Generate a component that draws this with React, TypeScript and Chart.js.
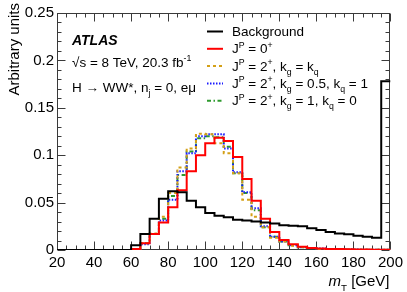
import React, { useEffect, useRef } from 'react';
import { Chart, registerables } from 'chart.js';

Chart.register(...registerables);

const FONT = '"Liberation Sans", Arial, Helvetica, sans-serif';

// 5 GeV bins from 20 to 200 GeV (lower edges + final upper edge)
const BIN_EDGES = [
  20, 25, 30, 35, 40, 45, 50, 55, 60, 65, 70, 75, 80, 85, 90, 95, 100, 105, 110,
  115, 120, 125, 130, 135, 140, 145, 150, 155, 160, 165, 170, 175, 180, 185, 190,
  195, 200,
];

const BACKGROUND = [
  0, 0, 0, 0, 0, 0, 0, 0,
  0.005, 0.017, 0.033, 0.054, 0.062, 0.061, 0.052, 0.045, 0.039, 0.036, 0.0345,
  0.032, 0.031, 0.030, 0.029, 0.028, 0.026, 0.0255, 0.025, 0.023, 0.021, 0.019,
  0.0175, 0.0165, 0.015, 0.014, 0.013, 0.178,
];

const SPIN0 = [
  0, 0, 0, 0, 0, 0, 0, 0,
  0.001, 0.007, 0.017, 0.029, 0.045, 0.063, 0.083, 0.100, 0.1125, 0.1185, 0.115,
  0.098, 0.075, 0.052, 0.033, 0.019, 0.0105, 0.006, 0.0035, 0.002, 0.0015, 0.001,
  0.001, 0.0008, 0.0005, 0.0004, 0.0003, 0.0003,
];

const SPIN2_KG_EQ_KQ = [
  0, 0, 0, 0, 0, 0, 0, 0,
  0.001, 0.007, 0.0175, 0.035, 0.060, 0.087, 0.107, 0.1225, 0.122, 0.1125, 0.102,
  0.081, 0.053, 0.035, 0.024, 0.013, 0.009, 0.0045, 0.003, 0.002, 0.001, 0.0008,
  0.0005, 0.0004, 0.0003, 0.0002, 0.0002, 0.0002,
];

const SPIN2_KG05_KQ1 = [
  0, 0, 0, 0, 0, 0, 0, 0,
  0.001, 0.006, 0.017, 0.031, 0.053, 0.083, 0.102, 0.120, 0.122, 0.122, 0.107,
  0.082, 0.061, 0.044, 0.025, 0.014, 0.009, 0.005, 0.003, 0.002, 0.0015, 0.001,
  0.0008, 0.0005, 0.0004, 0.0003, 0.0002, 0.0002,
];

const SPIN2_KG1_KQ0 = [
  0, 0, 0, 0, 0, 0, 0, 0,
  0.001, 0.007, 0.017, 0.033, 0.057, 0.079, 0.104, 0.118, 0.120, 0.119, 0.109,
  0.081, 0.060, 0.042, 0.024, 0.014, 0.009, 0.005, 0.003, 0.002, 0.001, 0.0008,
  0.0005, 0.0004, 0.0003, 0.0002, 0.0002, 0.0002,
];

const X_MIN = 20;
const X_MAX = 200;
const X_MAJOR = 20;
const X_MINOR = 5;
const Y_MIN = 0;
const Y_MAX = 0.25;
const Y_MAJOR = 0.05;
const Y_MINOR = 0.01;
const Y_TICK_LABELS = ['0', '0.05', '0.1', '0.15', '0.2', '0.25'];

type Seg = { t: string; s?: 'sup' | 'sub'; i?: boolean; b?: boolean };

const SERIES = [
  { key: 'bg', values: BACKGROUND, color: '#000000', width: 2, dash: [] as number[],
    legend: [{ t: 'Background' }] as Seg[] },
  { key: 's0', values: SPIN0, color: '#ff0000', width: 2, dash: [] as number[],
    legend: [{ t: 'J' }, { t: 'P', s: 'sup' }, { t: ' = 0' }, { t: '+', s: 'sup' }] as Seg[] },
  { key: 's2a', values: SPIN2_KG_EQ_KQ, color: '#d4a017', width: 2, dash: [3, 3],
    legend: [{ t: 'J' }, { t: 'P', s: 'sup' }, { t: ' = 2' }, { t: '+', s: 'sup' }, { t: ', k' },
      { t: 'g', s: 'sub' }, { t: ' = k' }, { t: 'q', s: 'sub' }] as Seg[] },
  { key: 's2b', values: SPIN2_KG05_KQ1, color: '#1a1aff', width: 2, dash: [1.5, 1.5],
    legend: [{ t: 'J' }, { t: 'P', s: 'sup' }, { t: ' = 2' }, { t: '+', s: 'sup' }, { t: ', k' },
      { t: 'g', s: 'sub' }, { t: ' = 0.5, k' }, { t: 'q', s: 'sub' }, { t: ' = 1' }] as Seg[] },
  { key: 's2c', values: SPIN2_KG1_KQ0, color: '#2e9a2e', width: 2, dash: [4, 2.5, 1.5, 2.5],
    legend: [{ t: 'J' }, { t: 'P', s: 'sup' }, { t: ' = 2' }, { t: '+', s: 'sup' }, { t: ', k' },
      { t: 'g', s: 'sub' }, { t: ' = 1, k' }, { t: 'q', s: 'sub' }, { t: ' = 0' }] as Seg[] },
];

function toSteps(values: number[]) {
  const pts = values.map((v, i) => ({ x: BIN_EDGES[i], y: v }));
  pts.push({ x: BIN_EDGES[values.length], y: values[values.length - 1] });
  return pts;
}

function drawRich(ctx: CanvasRenderingContext2D, segs: Seg[], x: number, y: number, size: number) {
  let cx = x;
  for (const sg of segs) {
    const sz = sg.s ? size * 0.65 : size;
    ctx.font = `${sg.i ? 'italic ' : ''}${sg.b ? 'bold ' : ''}${sz}px ${FONT}`;
    const dy = sg.s === 'sup' ? -size * 0.42 : sg.s === 'sub' ? size * 0.3 : 0;
    ctx.fillText(sg.t, cx, y + dy);
    cx += ctx.measureText(sg.t).width;
  }
  return cx;
}

const framePlugin = {
  id: 'rootFrame',
  beforeDatasetsDraw(chart: any) {
    const ctx: CanvasRenderingContext2D = chart.ctx;
    const { left, right, top, bottom } = chart.chartArea;
    const xs = chart.scales.x;
    const ys = chart.scales.y;
    ctx.save();
    ctx.setLineDash([]);
    ctx.strokeStyle = '#3a3a3a';
    ctx.lineWidth = 1;
    const L = Math.round(left) + 0.5;
    const R = Math.round(right) - 0.5;
    const T = Math.round(top) + 0.5;
    const B = Math.round(bottom) - 0.5;
    ctx.strokeRect(L, T, R - L, B - T);
    ctx.beginPath();
    const nx = Math.round((X_MAX - X_MIN) / X_MINOR);
    for (let i = 0; i <= nx; i++) {
      const v = X_MIN + i * X_MINOR;
      const major = Math.abs(((v - X_MIN) / X_MAJOR) - Math.round((v - X_MIN) / X_MAJOR)) < 1e-6;
      const len = major ? 8 : 4;
      const px = Math.round(xs.getPixelForValue(v)) + 0.5;
      ctx.moveTo(px, B);
      ctx.lineTo(px, B - len);
      ctx.moveTo(px, T);
      ctx.lineTo(px, T + len);
    }
    const ny = Math.round((Y_MAX - Y_MIN) / Y_MINOR);
    for (let i = 0; i <= ny; i++) {
      const v = Y_MIN + i * Y_MINOR;
      const major = i % Math.round(Y_MAJOR / Y_MINOR) === 0;
      const len = major ? 8 : 4;
      const py = Math.round(ys.getPixelForValue(v)) + 0.5;
      ctx.moveTo(L, py);
      ctx.lineTo(L + len, py);
      ctx.moveTo(R, py);
      ctx.lineTo(R - len, py);
    }
    ctx.stroke();
    ctx.restore();
  },
  afterDraw(chart: any) {
    const ctx: CanvasRenderingContext2D = chart.ctx;
    const { right } = chart.chartArea;
    const R = Math.round(right) - 0.5;
    ctx.save();
    ctx.fillStyle = '#000';
    ctx.textBaseline = 'alphabetic';
    ctx.textAlign = 'left';
    drawRich(ctx, [{ t: 'ATLAS', b: true, i: true }], 72, 45, 14);
    drawRich(ctx, [{ t: '\u221As = 8 TeV, 20.3 fb' }, { t: '-1', s: 'sup' }], 72, 67, 13.5);
    drawRich(ctx, [{ t: 'H \u2192 WW*, n' }, { t: 'j', s: 'sub' }, { t: ' = 0, e\u03BC' }], 72, 92, 13.5);

    // Legend
    const baselines = [36, 53.3, 70.6, 87.9, 105.2];
    SERIES.forEach((s, i) => {
      const by = baselines[i];
      ctx.save();
      ctx.strokeStyle = s.color;
      ctx.lineWidth = s.width;
      ctx.setLineDash(s.dash);
      ctx.beginPath();
      ctx.moveTo(207, by - 4.5);
      ctx.lineTo(223, by - 4.5);
      ctx.stroke();
      ctx.restore();
      ctx.fillStyle = '#000';
      drawRich(ctx, s.legend, 232, by, 13.5);
    });

    // X title (right aligned)
    const xt: Seg[] = [{ t: 'm', i: true }, { t: 'T', s: 'sub' }, { t: ' [GeV]' }];
    let w = 0;
    for (const sg of xt) {
      const sz = sg.s ? 15 * 0.65 : 15;
      ctx.font = `${sg.i ? 'italic ' : ''}${sz}px ${FONT}`;
      w += ctx.measureText(sg.t).width;
    }
    drawRich(ctx, xt, R - w, 286, 15);

    // Y title
    ctx.save();
    ctx.translate(18.5, 3);
    ctx.rotate(-Math.PI / 2);
    ctx.textAlign = 'right';
    ctx.font = `15px ${FONT}`;
    ctx.fillText('Arbitrary units', 0, 0);
    ctx.restore();

    ctx.restore();
  },
};

export default function App() {
  const ref = useRef<HTMLCanvasElement | null>(null);
  useEffect(() => {
    if (!ref.current) return;
    const chart = new Chart(ref.current, {
      type: 'line',
      data: {
        datasets: SERIES.map((s) => ({
          label: s.key,
          data: toSteps(s.values),
          borderColor: s.color,
          backgroundColor: s.color,
          borderWidth: s.width,
          borderDash: s.dash,
          stepped: 'before' as const,
          pointRadius: 0,
          fill: false,
        })),
      },
      options: {
        animation: false,
        responsive: true,
        maintainAspectRatio: false,
        layout: { padding: { top: 13, right: 16, left: 0, bottom: 0 } },
        plugins: { legend: { display: false }, tooltip: { enabled: false } },
        scales: {
          x: {
            type: 'linear',
            min: X_MIN,
            max: X_MAX,
            afterFit: (s: any) => { s.height = 42; },
            grid: { display: false, drawTicks: false },
            border: { display: false },
            ticks: {
              stepSize: X_MAJOR,
              autoSkip: false,
              maxRotation: 0,
              padding: 4,
              color: '#000',
              font: { family: FONT, size: 15 },
            },
          },
          y: {
            type: 'linear',
            min: Y_MIN,
            max: Y_MAX,
            afterFit: (s: any) => { s.width = 57; },
            grid: { display: false, drawTicks: false },
            border: { display: false },
            ticks: {
              stepSize: Y_MAJOR,
              padding: 3,
              color: '#000',
              font: { family: FONT, size: 15 },
              callback: (v: any) => Y_TICK_LABELS[Math.round(Number(v) / Y_MAJOR)],
            },
          },
        },
      },
      plugins: [framePlugin],
    });
    return () => chart.destroy();
  }, []);
  return (
    <div style={{ position: 'absolute', left: 0, top: 0, width: 407, height: 292 }}>
      <canvas ref={ref} />
    </div>
  );
}
